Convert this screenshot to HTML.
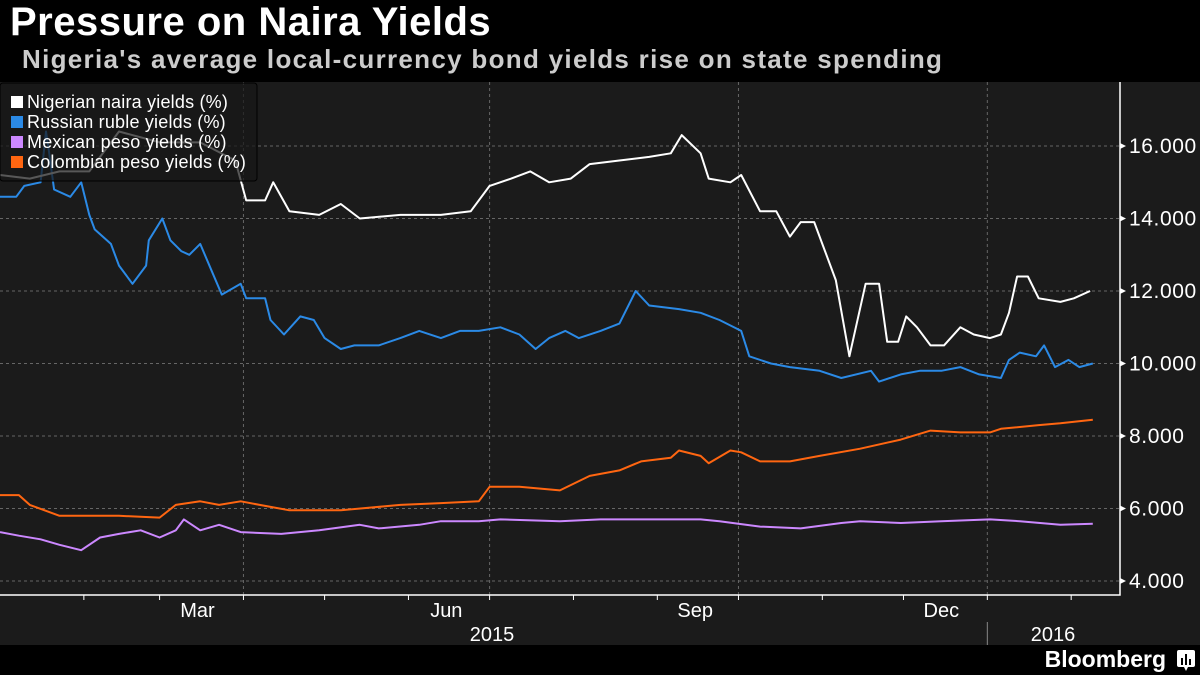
<!DOCTYPE html>
<html><head><meta charset="utf-8"><style>
body{margin:0;width:1200px;height:675px;background:#000;overflow:hidden;font-family:"Liberation Sans",sans-serif}
#hdr{position:absolute;left:0;top:0;width:1200px;height:82px;background:#000}
#title{position:absolute;left:10px;top:0px;color:#fff;font-weight:bold;font-size:40px;letter-spacing:0.5px}
#sub{position:absolute;left:22px;top:44px;color:#ccc;font-weight:bold;font-size:26px;letter-spacing:1.3px}
#brand{position:absolute;right:34px;top:646px;color:#fff;font-weight:bold;font-size:23px}
</style></head><body>
<div id="hdr">
<div id="title">Pressure on Naira Yields</div>
<div id="sub">Nigeria's average local-currency bond yields rise on state spending</div>
</div>
<svg id="chart" width="1200" height="675" style="position:absolute;left:0;top:0"></svg>
<div id="brand">Bloomberg</div>
<svg style="position:absolute;left:1177px;top:650px" width="18" height="22"><rect x="0" y="0" width="18" height="17" rx="2" fill="#fff"/><path d="M7 17 L9 21 L11 17Z" fill="#fff"/><rect x="4" y="8" width="2" height="7" fill="#000"/><rect x="8" y="4" width="2" height="11" fill="#000"/><rect x="12" y="9" width="2" height="6" fill="#000"/></svg>
<script>
const yTicks=[4,6,8,10,12,14,16];
const seriesNames=["Nigerian naira yields (%)","Russian ruble yields (%)","Mexican peso yields (%)","Colombian peso yields (%)"];
const seriesColors=["#ffffff","#2b8ae6","#cc88ff","#ff6611"];
const nairaDays=[0,11,22,33,44,59,74,87,91,98,101,107,118,126,133,148,163,174,181,189,196,203,211,218,229,240,248,252,259,262,270,274,281,287,292,296,301,305,309,314,320,325,328,332,335,339,344,349,355,360,366,370,373,376,380,384,392,397,403];
const nairaVals=[15.2,15.1,15.3,15.3,16.4,16.1,16.1,15.6,14.5,14.5,15.0,14.2,14.1,14.4,14.0,14.1,14.1,14.2,14.9,15.1,15.3,15.0,15.1,15.5,15.6,15.7,15.8,16.3,15.8,15.1,15.0,15.2,14.2,14.2,13.5,13.9,13.9,13.1,12.3,10.2,12.2,12.2,10.6,10.6,11.3,11.0,10.5,10.5,11.0,10.8,10.7,10.8,11.4,12.4,12.4,11.8,11.7,11.8,12.0];
const rubleDays=[0,6,9,15,17,18,20,26,30,33,35,41,44,49,54,55,60,63,67,70,74,78,82,89,91,98,100,105,111,116,120,126,131,140,148,155,163,170,177,185,192,198,203,209,214,222,229,235,240,251,259,266,274,277,285,292,303,311,322,325,333,340,348,355,362,370,373,377,383,386,390,395,399,404];
const rubleVals=[14.6,14.6,14.9,15.0,16.4,15.9,14.8,14.6,15.0,14.1,13.7,13.3,12.7,12.2,12.7,13.4,14.0,13.4,13.1,13.0,13.3,12.6,11.9,12.2,11.8,11.8,11.2,10.8,11.3,11.2,10.7,10.4,10.5,10.5,10.7,10.9,10.7,10.9,10.9,11.0,10.8,10.4,10.7,10.9,10.7,10.9,11.1,12.0,11.6,11.5,11.4,11.2,10.9,10.2,10.0,9.9,9.8,9.6,9.8,9.5,9.7,9.8,9.8,9.9,9.7,9.6,10.1,10.3,10.2,10.5,9.9,10.1,9.9,10.0];
const mxnDays=[0,7,15,22,30,37,44,52,59,65,68,74,81,89,104,118,133,140,155,163,177,185,207,222,237,259,266,281,296,311,318,333,348,366,377,392,404];
const mxnVals=[5.35,5.25,5.15,5.0,4.85,5.2,5.3,5.4,5.2,5.4,5.7,5.4,5.55,5.35,5.3,5.4,5.55,5.45,5.55,5.65,5.65,5.7,5.65,5.7,5.7,5.7,5.65,5.5,5.45,5.6,5.65,5.6,5.65,5.7,5.65,5.55,5.58];
const copDays=[0,7,11,22,37,44,59,65,74,81,89,96,107,126,148,163,177,181,192,207,218,229,237,248,251,259,262,270,274,281,292,303,318,333,344,355,366,370,384,392,404];
const copVals=[6.37,6.37,6.1,5.8,5.8,5.8,5.75,6.1,6.2,6.1,6.2,6.1,5.95,5.95,6.1,6.15,6.2,6.6,6.6,6.5,6.9,7.05,7.3,7.4,7.6,7.45,7.25,7.6,7.55,7.3,7.3,7.45,7.65,7.9,8.15,8.1,8.1,8.2,8.3,8.35,8.45];
const xLabels=["Mar","Jun","Sep","Dec"];
const xLabelDays=[73,165,257,348];

const NS="http://www.w3.org/2000/svg";
const svg=document.getElementById('chart');
const X=d=>d*2.705;
const Y=v=>581-(v-4)*36.25;
function mk(tag,attrs,parent){const e=document.createElementNS(NS,tag);for(const k in attrs)e.setAttribute(k,attrs[k]);(parent||svg).appendChild(e);return e;}
const bg=mk('rect',{x:0,y:82,width:1200,height:563,fill:'#1b1b1b'});


yTicks.forEach(v=>{
  const g=mk('line',{x1:0,x2:1120,y1:Y(v),y2:Y(v),stroke:'#666','stroke-dasharray':'3,3','stroke-width':1});
  
  
  const t=mk('text',{x:1129,y:Y(v)+7,fill:'#fff','font-size':21,'letter-spacing':'0.6','font-family':'Liberation Sans, sans-serif'});
  t.textContent=v.toFixed(3);
  
  
  mk('path',{d:`M1120 ${Y(v)-3} L1126 ${Y(v)} L1120 ${Y(v)+3}Z`,fill:'#fff'});
});
[90,181,273,365].forEach(d=>{
  const g=mk('line',{x1:X(d),x2:X(d),y1:82,y2:595,stroke:'#666','stroke-dasharray':'3,3','stroke-width':1});
  
  
});
const ax=mk('path',{d:'M0 595 L1120 595 L1120 82',fill:'none',stroke:'#fff','stroke-width':1.5});


[31,59,90,120,151,181,212,243,273,304,334,365,396].forEach(d=>{mk('line',{x1:X(d),x2:X(d),y1:595,y2:600,stroke:'#fff'});});
xLabels.forEach((s,i)=>{
  const t=mk('text',{x:X(xLabelDays[i]),y:617,fill:'#fff','font-size':20,'text-anchor':'middle','font-family':'Liberation Sans, sans-serif'});
  t.textContent=s;
  
  
});
[["2015",492],["2016",1053]].forEach(a=>{
  const t=mk('text',{x:a[1],y:641,fill:'#fff','font-size':20,'text-anchor':'middle','font-family':'Liberation Sans, sans-serif'});
  t.textContent=a[0];
  
  
});
mk('line',{x1:X(365),x2:X(365),y1:622,y2:645,stroke:'#888'});
const all=[[nairaDays,nairaVals],[rubleDays,rubleVals],[mxnDays,mxnVals],[copDays,copVals]];
const order=[3,2,1,0];
const lineNames=['naira-line','ruble-line','peso-mexico-line','peso-colombia-line'];
order.forEach(i=>{
  const [ds,vs]=all[i];
  const p=mk('polyline',{points:ds.map((d,j)=>X(d).toFixed(1)+','+Y(vs[j]).toFixed(1)).join(' '),fill:'none',stroke:seriesColors[i],'stroke-width':2,'stroke-linejoin':'round'});
  
  
});
const lg=mk('g',{});


mk('rect',{x:0,y:83,width:257,height:98,rx:3,fill:'rgba(24,24,24,0.72)',stroke:'#000'},lg);
seriesNames.forEach((s,i)=>{
  mk('rect',{x:11,y:96+i*20,width:12,height:12,fill:seriesColors[i]},lg);
  const t=mk('text',{x:27,y:108+i*20,fill:'#fff','font-size':18,'letter-spacing':'0.2','font-family':'Liberation Sans, sans-serif'},lg);
  t.textContent=s;
  
  
});
</script>
</body></html>
